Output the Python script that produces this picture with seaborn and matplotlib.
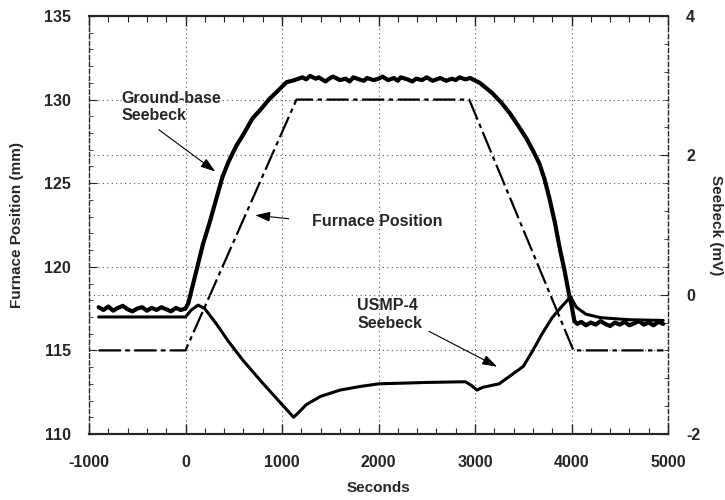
import matplotlib
matplotlib.use("Agg")
import matplotlib.pyplot as plt
import seaborn as sns
import numpy as np
from matplotlib.ticker import MultipleLocator

# ---------------- data ----------------
furnace_t = [-900, 0, 1150, 2940, 4020, 4950]
furnace_mm = [115, 115, 130, 130, 115, 115]

gb_t = [-900, -850, -800, -750, -700, -650, -600, -550, -500, -450, -400, -350,
        -300, -250, -200, -150, -100, -50, 0, 30, 60, 114, 180, 249, 320, 383,
        450, 528, 600, 694, 780, 870, 960, 1047, 1130, 1212,
        1250, 1290, 1350, 1380, 1450, 1500, 1530, 1600, 1660, 1700, 1740, 1800,
        1850, 1880, 1950, 2000, 2040, 2100, 2160, 2200, 2230, 2300, 2350, 2390,
        2450, 2500, 2560, 2600, 2640, 2700, 2760, 2800, 2840, 2900, 2950,
        3050, 3181, 3270, 3358, 3450, 3534, 3600, 3668, 3720, 3772, 3830, 3876,
        3930, 3979, 4000, 4030, 4060, 4100, 4150, 4200, 4250, 4300, 4350, 4400,
        4450, 4500, 4550, 4600, 4650, 4700, 4750, 4800, 4850, 4900, 4950]
gb_mv = [-0.18, -0.22, -0.17, -0.23, -0.19, -0.16, -0.21, -0.24, -0.20, -0.18, -0.23, -0.19,
         -0.22, -0.18, -0.21, -0.24, -0.19, -0.22, -0.20, -0.12, 0.05, 0.35, 0.72, 1.03, 1.38, 1.69,
         1.92, 2.14, 2.30, 2.53, 2.66, 2.81, 2.93, 3.05, 3.08, 3.12,
         3.09, 3.14, 3.10, 3.12, 3.06, 3.11, 3.13, 3.08, 3.10, 3.06, 3.12, 3.09,
         3.07, 3.11, 3.08, 3.10, 3.13, 3.08, 3.11, 3.07, 3.12, 3.09, 3.06, 3.10,
         3.08, 3.12, 3.07, 3.09, 3.11, 3.07, 3.10, 3.08, 3.12, 3.09, 3.11,
         3.04, 2.89, 2.76, 2.61, 2.42, 2.24, 2.07, 1.88, 1.66, 1.38, 1.02, 0.68,
         0.33, -0.03, -0.15, -0.38, -0.42, -0.39, -0.44, -0.40, -0.43, -0.38, -0.42, -0.45,
         -0.40, -0.43, -0.39, -0.44, -0.41, -0.38, -0.43, -0.40, -0.44, -0.39, -0.42]

usmp_t = [-900, -500, 0, 60, 130, 200, 320, 450, 600, 800, 950, 1120, 1180, 1250,
          1400, 1600, 1800, 2000, 2500, 2900, 2960, 3020, 3080, 3250, 3500, 3600,
          3700, 3800, 3880, 3990, 4050, 4150, 4300, 4600, 4950]
usmp_mv = [-0.32, -0.32, -0.32, -0.22, -0.15, -0.20, -0.42, -0.68, -0.95, -1.27, -1.50, -1.76, -1.68, -1.58,
           -1.46, -1.37, -1.32, -1.28, -1.26, -1.25, -1.30, -1.37, -1.33, -1.28, -1.03, -0.80,
           -0.55, -0.33, -0.20, -0.03, -0.18, -0.28, -0.33, -0.36, -0.37]

x_ticks = [-1000, 0, 1000, 2000, 3000, 4000, 5000]
left_ticks = [110, 115, 120, 125, 130, 135]
right_ticks = [-2, 0, 2, 4]

# ---------------- style ----------------
sns.set_style("ticks")
plt.rcParams['font.family'] = ['Liberation Sans', 'DejaVu Sans']
plt.rcParams['font.weight'] = 'bold'
plt.rcParams['axes.labelweight'] = 'bold'
plt.rcParams['axes.unicode_minus'] = False

fig = plt.figure(figsize=(7.25, 5), dpi=100)
ax = fig.add_axes([89/725, 1-434/500, (668-89)/725, (434-16)/500])
ax2 = ax.twinx()

sns.lineplot(x=furnace_t, y=furnace_mm, ax=ax, color='black', lw=1.6,
             linestyle=(0, (10, 2, 2, 2)), estimator=None, sort=False)
sns.lineplot(x=gb_t, y=gb_mv, ax=ax2, color='black', lw=3.0, estimator=None, sort=False)
sns.lineplot(x=usmp_t, y=usmp_mv, ax=ax2, color='black', lw=2.2, estimator=None, sort=False)

ax.set_xlim(-1000, 5000)
ax.set_ylim(110, 135)
ax2.set_ylim(-2, 4)

ax.set_xticks(x_ticks)
ax.set_yticks(left_ticks)
ax2.set_yticks(right_ticks)
ax.xaxis.set_minor_locator(MultipleLocator(200))
ax.yaxis.set_minor_locator(MultipleLocator(1))
ax2.yaxis.set_minor_locator(MultipleLocator(0.4))

grid_kw = dict(color='#555555', lw=0.8, linestyle=(0, (1, 3)))
ax.grid(True, which='major', axis='both', **grid_kw)
ax2.grid(True, which='major', axis='y', **grid_kw)

ax.tick_params(axis='x', which='both', direction='in', top=True, bottom=True,
               labelsize=11.5, pad=15)
ax.tick_params(axis='x', which='major', length=7, width=1)
ax.tick_params(axis='x', which='minor', length=4, width=0.8)
ax.tick_params(axis='y', which='both', direction='in', left=True, right=False,
               labelsize=11.5, pad=13)
ax.tick_params(axis='y', which='major', length=6)
ax.tick_params(axis='y', which='minor', length=3)
ax2.tick_params(axis='y', which='both', direction='in', right=True, left=False,
                labelsize=11.5, pad=13)
ax2.tick_params(axis='y', which='major', length=6)
ax2.tick_params(axis='y', which='minor', length=3)

for lab in ax.get_xticklabels() + ax.get_yticklabels() + ax2.get_yticklabels():
    lab.set_fontweight('bold')

for a in (ax, ax2):
    a.spines['top'].set_linewidth(1.5)
    a.spines['bottom'].set_linewidth(1.5)
ax.spines['left'].set_linestyle((0, (3, 2)))
ax.spines['left'].set_linewidth(1.0)
ax2.spines['right'].set_linestyle((0, (3, 2)))
ax2.spines['right'].set_linewidth(1.0)
ax2.spines['left'].set_visible(False)
ax.spines['right'].set_visible(False)

ax.set_xlabel("Seconds", fontsize=11, fontweight='bold')
ax.set_ylabel("Furnace Position (mm)", fontsize=11, fontweight='bold')
ax2.set_ylabel("Seebeck (mV)", fontsize=11, fontweight='bold', rotation=270)
ax.xaxis.set_label_coords(0.5, -0.113)
ax.yaxis.set_label_coords(-0.112, 0.5)
ax2.yaxis.set_label_coords(1.095, 0.5)

arrow_kw = dict(arrowstyle='-|>,head_length=0.9,head_width=0.3', color='black', lw=0.8)
txt_kw = dict(fontsize=11.5, fontweight='bold', ha='left', va='center')
ax2.annotate("Ground-base\nSeebeck", xy=(332, 125.6), xytext=(-663, 129.56),
             xycoords=ax.transData, textcoords=ax.transData, **txt_kw)
ax2.annotate("", xy=(332, 125.6), xytext=(-300, 128.3),
             xycoords=ax.transData, textcoords=ax.transData, arrowprops=arrow_kw)
ax2.annotate("Furnace Position", xy=(694, 123.1), xytext=(1306, 122.68),
             xycoords=ax.transData, textcoords=ax.transData, **txt_kw)
ax2.annotate("", xy=(694, 123.1), xytext=(1098, 122.86),
             xycoords=ax.transData, textcoords=ax.transData, arrowprops=arrow_kw)
ax2.annotate("USMP-4\nSeebeck", xy=(3254, 113.95), xytext=(1782, 117.15),
             xycoords=ax.transData, textcoords=ax.transData, **txt_kw)
ax2.annotate("", xy=(3254, 113.95), xytext=(2497, 116.22),
             xycoords=ax.transData, textcoords=ax.transData, arrowprops=arrow_kw)

fig.savefig("out.png", dpi=100)
